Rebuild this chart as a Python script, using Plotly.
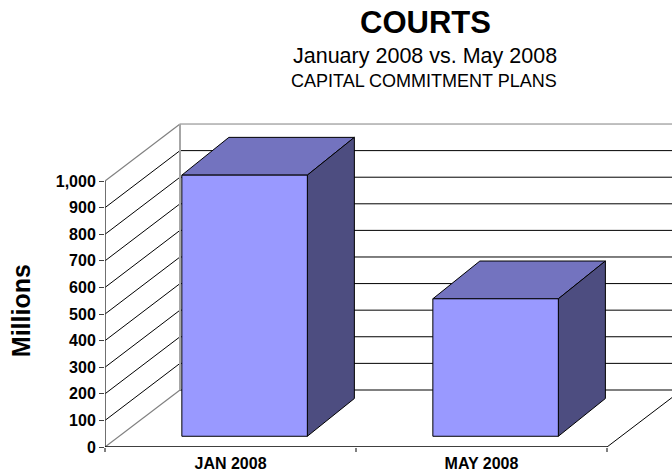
import plotly.graph_objects as go

categories = ["JAN 2008", "MAY 2008"]
values = [982, 517]
y_ticks = [0, 100, 200, 300, 400, 500, 600, 700, 800, 900, 1000]
y_labels = ["0", "100", "200", "300", "400", "500", "600", "700", "800", "900", "1,000"]

FONT = "Liberation Sans"
WIDTH, HEIGHT = 672, 476
L, R, T, B = 105, 0, 100, 29.3
PX_PER_CAT = 251.0
PX_PER_UNIT = 0.2657
DEPTH_X = 75 / PX_PER_CAT
DEPTH_Y = 57 / PX_PER_UNIT
X_MAX = (WIDTH - L) / PX_PER_CAT
Y_MAX = (HEIGHT - T - B) / PX_PER_UNIT
BAR_START = 0.25
BAR_WIDTH = 0.5
BAR_NEAR = 0.188
BAR_FAR_X = 0.815
BAR_FAR_Y = 0.85
FRONT, TOP, SIDE = "#9999FF", "#7373BF", "#4D4D80"
GREY = "#808080"


def depth(x, y, fx, fy=None):
    fy = fx if fy is None else fy
    return x + fx * DEPTH_X, y + fy * DEPTH_Y


def line(xs, ys, color="#000000", width=1):
    return go.Scatter(x=xs, y=ys, mode="lines", line=dict(color=color, width=width),
                      hoverinfo="skip", showlegend=False, cliponaxis=False)


def poly(pts, fill):
    xs = [p[0] for p in pts] + [pts[0][0]]
    ys = [p[1] for p in pts] + [pts[0][1]]
    return go.Scatter(x=xs, y=ys, mode="lines", fill="toself", fillcolor=fill,
                      line=dict(color="#000000", width=1), hoverinfo="skip",
                      showlegend=False, cliponaxis=False)


def page_note(text, px, py, size, bold=False, angle=0):
    return dict(text=text, x=(px - L) / (WIDTH - L - R), y=(HEIGHT - py - B) / (HEIGHT - T - B),
                xref="x domain", yref="y domain", showarrow=False, textangle=angle,
                xanchor="center", yanchor="middle",
                font=dict(family=FONT, size=size, weight="bold" if bold else "normal"))


fig = go.Figure()

# side wall and back wall gridlines
for v in y_ticks:
    edge = v in (0, 1000)
    color = GREY if edge else "#000000"
    bx, by = depth(0, v, 1)
    fig.add_trace(line([0, bx], [v, by], color, 1.2 if edge else 1))
    fig.add_trace(line([bx, X_MAX], [by, by], color, 2 if v == 0 else 1))
# back-left corner
bx, y0 = depth(0, 0, 1)
_, y1 = depth(0, 1000, 1)
fig.add_trace(line([bx, bx], [y0, y1], "#A6A6A6", 2))
# floor right edge
fig.add_trace(line([len(categories), X_MAX], [0, (X_MAX - len(categories)) / DEPTH_X * DEPTH_Y]))
# front axes
fig.add_trace(line([0, 0], [0, 1000], "#404040", 1.5))
fig.add_trace(line([0, len(categories)], [0, 0], "#000000", 1.5))

# bars, each face projected from its value
for i, v in enumerate(values):
    x0, x1 = i + BAR_START, i + BAR_START + BAR_WIDTH
    fl0 = depth(x0, 0, BAR_NEAR)
    fr0 = depth(x1, 0, BAR_NEAR)
    fl1 = depth(x0, v, BAR_NEAR)
    fr1 = depth(x1, v, BAR_NEAR)
    br0 = depth(x1, 0, BAR_FAR_X, BAR_FAR_Y)
    br1 = depth(x1, v, BAR_FAR_X, BAR_FAR_Y)
    bl1 = depth(x0, v, BAR_FAR_X, BAR_FAR_Y)
    fig.add_trace(poly([fl1, fr1, br1, bl1], TOP))
    fig.add_trace(poly([fr0, br0, br1, fr1], SIDE))
    fig.add_trace(poly([fl0, fr0, fr1, fl1], FRONT))

fig.update_layout(
    width=WIDTH, height=HEIGHT, autosize=False,
    margin=dict(l=L, r=R, t=T, b=B, pad=0),
    paper_bgcolor="white", plot_bgcolor="white", showlegend=False,
    font=dict(family=FONT, color="#000000"),
    xaxis=dict(range=[0, X_MAX], domain=[0, 1], showgrid=False, zeroline=False, showline=False,
               tickmode="array", tickvals=[i + 0.5 for i in range(len(categories))],
               ticktext=categories, ticks="", ticklen=0, ticklabelstandoff=5,
               tickfont=dict(family=FONT, size=16, weight="bold"),
               minor=dict(tickmode="array", tickvals=[0, 1, 2], ticks="outside",
                          ticklen=4, tickwidth=2, tickcolor=GREY, showgrid=False)),
    yaxis=dict(range=[0, Y_MAX], domain=[0, 1], showgrid=False, zeroline=False, showline=False,
               tickmode="array", tickvals=y_ticks, ticktext=y_labels, ticks="outside",
               ticklen=5, tickcolor="#404040", tickwidth=1,
               tickfont=dict(family=FONT, size=16, weight="bold")),
    annotations=[
        page_note("COURTS", 425, 23, 31, bold=True),
        page_note("January 2008 vs. May 2008", 425, 56, 21.5),
        page_note("CAPITAL COMMITMENT PLANS", 424, 81, 18),
        page_note("Millions", 21, 311, 25, bold=True, angle=-90),
    ],
)

fig.write_html("out.html", config=dict(displayModeBar=False),
               post_script="document.body.style.margin='0';document.documentElement.style.overflow='hidden';")
